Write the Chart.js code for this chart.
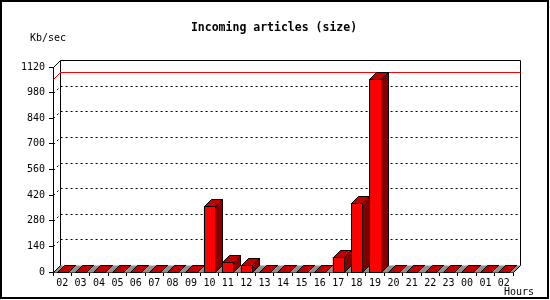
<!DOCTYPE html>
<html>
<head>
<meta charset="utf-8">
<script src="https://cdn.jsdelivr.net/npm/chart.js@4/dist/chart.umd.min.js"></script>
<style>
  html, body { margin: 0; padding: 0; background: #fff; }
  canvas { display: block; }
</style>
</head>
<body>
<canvas id="myChart" width="550" height="300"></canvas>
<script>
const hours = ['02', '03', '04', '05', '06', '07', '08', '09', '10', '11', '12', '13', '14',
    '15', '16', '17', '18', '19', '20', '21', '22', '23', '00', '01', '02'];
const kbPerSec = [0, 0, 0, 0, 0, 0, 0, 0, 358, 52, 36, 0, 0,
    0, 0, 82, 375, 1052, 0, 0, 0, 0, 0, 0, 0];
const yTicks = [0, 140, 280, 420, 560, 700, 840, 980, 1120];

const titleText = 'Incoming articles (size)';
const yUnit = 'Kb/sec';
const xUnit = 'Hours';

const DEPTH = 7;
const mono = "'DejaVu Sans Mono', 'Liberation Mono', monospace";
const px = (v) => Math.round(v) + 0.5;

// draws the fake 3d look: back wall, floor, bar sides and tops
const depthPlugin = {
    id: 'depth',
    beforeDraw(chart) {
        const ctx = chart.ctx;
        ctx.save();
        ctx.fillStyle = '#fff';
        ctx.fillRect(0, 0, chart.width, chart.height);
        ctx.fillStyle = '#000';
        ctx.font = 'bold 11.5px ' + mono;
        ctx.textAlign = 'center';
        ctx.textBaseline = 'alphabetic';
        ctx.fillText(titleText, 274, 31);
        ctx.font = '10px ' + mono;
        ctx.textAlign = 'left';
        ctx.fillText(yUnit, 30, 41);
        ctx.fillText(xUnit, 504, 295);
        ctx.restore();
    },
    beforeDatasetsDraw(chart) {
        const ctx = chart.ctx;
        const { left, right, top, bottom } = chart.chartArea;
        const y = chart.scales.y;
        const l = px(left), r = px(right), t = px(top), b = px(bottom);
        ctx.save();
        ctx.lineWidth = 1;

        // floor
        ctx.fillStyle = '#909090';
        ctx.beginPath();
        ctx.moveTo(l, b);
        ctx.lineTo(r, b);
        ctx.lineTo(r + DEPTH, b - DEPTH);
        ctx.lineTo(l + DEPTH, b - DEPTH);
        ctx.closePath();
        ctx.fill();

        // dashed grid on the back wall
        ctx.strokeStyle = '#000';
        ctx.setLineDash([2, 3]);
        yTicks.forEach((v) => {
            if (v === yTicks[0] || v === yTicks[yTicks.length - 1]) return;
            const py = px(y.getPixelForValue(v));
            ctx.beginPath();
            ctx.moveTo(l, py);
            ctx.lineTo(l + DEPTH, py - DEPTH);
            ctx.lineTo(r + DEPTH, py - DEPTH);
            ctx.stroke();
        });
        ctx.setLineDash([]);

        // back wall outline
        ctx.beginPath();
        ctx.moveTo(l, t);
        ctx.lineTo(l + DEPTH, t - DEPTH);
        ctx.lineTo(r + DEPTH, t - DEPTH);
        ctx.lineTo(r + DEPTH, b - DEPTH);
        ctx.lineTo(r, b);
        ctx.moveTo(l + DEPTH, t - DEPTH);
        ctx.lineTo(l + DEPTH, b - DEPTH);
        ctx.moveTo(l, b);
        ctx.lineTo(l + DEPTH, b - DEPTH);
        ctx.stroke();

        // peak line
        const peak = px(y.getPixelForValue(Math.max(...kbPerSec)));
        ctx.strokeStyle = '#ff0000';
        ctx.beginPath();
        ctx.moveTo(l, peak);
        ctx.lineTo(l + DEPTH, peak - DEPTH);
        ctx.lineTo(r + DEPTH, peak - DEPTH);
        ctx.stroke();
        ctx.restore();
    },
    afterDatasetsDraw(chart) {
        const ctx = chart.ctx;
        ctx.save();
        ctx.lineWidth = 1;
        ctx.strokeStyle = '#000';
        chart.getDatasetMeta(0).data.forEach((bar) => {
            const { x, y, base, width } = bar.getProps(['x', 'y', 'base', 'width'], true);
            const L = px(x - width / 2), R = px(x + width / 2);
            const T = px(y), B = px(base);
            // side
            ctx.fillStyle = '#800000';
            ctx.beginPath();
            ctx.moveTo(R, T);
            ctx.lineTo(R + DEPTH, T - DEPTH);
            ctx.lineTo(R + DEPTH, B - DEPTH);
            ctx.lineTo(R, B);
            ctx.closePath();
            ctx.fill();
            ctx.stroke();
            // top
            ctx.fillStyle = '#c00000';
            ctx.beginPath();
            ctx.moveTo(L, T);
            ctx.lineTo(L + DEPTH, T - DEPTH);
            ctx.lineTo(R + DEPTH, T - DEPTH);
            ctx.lineTo(R, T);
            ctx.closePath();
            ctx.fill();
            ctx.stroke();
            // front
            if (B - T > 0) {
                ctx.fillStyle = '#ff0000';
                ctx.fillRect(L, T, R - L, B - T);
                ctx.strokeRect(L, T, R - L, B - T);
            }
        });
        ctx.restore();
    },
    afterDraw(chart) {
        const ctx = chart.ctx;
        ctx.save();
        ctx.strokeStyle = '#000';
        ctx.lineWidth = 2;
        ctx.strokeRect(1, 1, 547, 297);
        ctx.restore();
    },
};

const ctx = document.getElementById('myChart').getContext('2d');
new Chart(ctx, {
    type: 'bar',
    data: {
        labels: hours,
        datasets: [
            {
                label: yUnit,
                data: kbPerSec,
                backgroundColor: '#ff0000',
                borderColor: '#000',
                borderWidth: 0,
                barPercentage: 0.6,
                categoryPercentage: 1,
            },
        ],
    },
    options: {
        responsive: false,
        animation: false,
        layout: { padding: { left: 0, top: 67, right: 37, bottom: 0 } },
        plugins: {
            legend: { display: false },
            tooltip: { enabled: false },
        },
        scales: {
            x: {
                offset: true,
                grid: { drawOnChartArea: false, color: '#000', tickLength: 4, offset: true },
                border: { color: '#000' },
                ticks: {
                    color: '#000',
                    font: { family: mono, size: 10 },
                    padding: 1,
                    maxRotation: 0,
                    autoSkip: false,
                },
                afterFit: (s) => { s.height = 28; },
            },
            y: {
                min: 0,
                max: 1120,
                afterBuildTicks: (s) => { s.ticks = yTicks.map((v) => ({ value: v })); },
                grid: { drawOnChartArea: false, color: '#000', tickLength: 4 },
                border: { color: '#000' },
                ticks: {
                    color: '#000',
                    font: { family: mono, size: 10 },
                    padding: 4,
                    callback: (v) => String(v),
                },
                afterFit: (s) => { s.width = 53; },
            },
        },
    },
    plugins: [depthPlugin],
});
</script>
</body>
</html>
